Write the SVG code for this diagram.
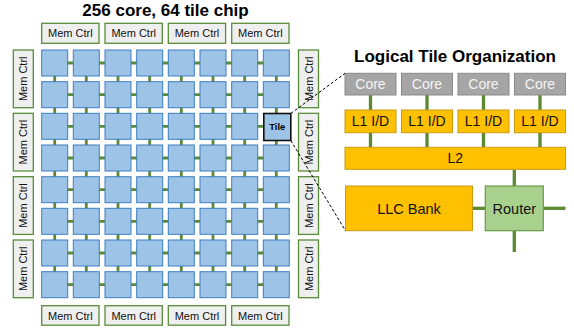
<svg xmlns="http://www.w3.org/2000/svg" width="574" height="331" viewBox="0 0 574 331">
  <style>
    text { font-family: "Liberation Sans", Arial, sans-serif; }
    .title { font-size: 17px; font-weight: bold; fill: #000; text-anchor: middle; }
    .tile { fill: #9DC3E6; stroke: #3D7EC1; stroke-width: 1; }
    .tile-hl { fill: #9DC3E6; stroke: #111; stroke-width: 1.6; }
    .mc { fill: #EFEFEF; stroke: #5B8C3A; stroke-width: 1.3; }
    .mc-t { font-size: 11px; fill: #111; text-anchor: middle; }
    .link { stroke: #5B8A32; stroke-width: 2.8; fill: none; }
    .wire { stroke: #5B8A32; stroke-width: 3.3; fill: none; }
    .zoom { stroke: #000; stroke-width: 1; stroke-dasharray: 3 2; fill: none; }
    .core { fill: #A5A5A5; stroke: #8A8A8A; stroke-width: 1; }
    .core-t { font-size: 14px; fill: #F4F4F4; text-anchor: middle; }
    .cache { fill: #FFC000; stroke: #C89A10; stroke-width: 1; }
    .router { fill: #A9D18E; stroke: #6A9A4A; stroke-width: 1.2; }
    .lbl { font-size: 14px; fill: #111; text-anchor: middle; }
    .lbl-l { font-size: 14.5px; fill: #111; text-anchor: middle; }
  </style>

  <text class="title" x="165.5" y="15.5">256 core, 64 tile chip</text>
  <text class="title" x="455" y="61.5">Logical Tile Organization</text>

  <!-- mesh links and tile-internal wiring -->
  <g id="connectors">
    <!-- horizontal mesh rows -->
    <g class="link">
      <line x1="54.7" y1="63.0" x2="276.3" y2="63.0"/>
      <line x1="54.7" y1="94.7" x2="276.3" y2="94.7"/>
      <line x1="54.7" y1="126.3" x2="276.3" y2="126.3"/>
      <line x1="54.7" y1="158.0" x2="276.3" y2="158.0"/>
      <line x1="54.7" y1="189.7" x2="276.3" y2="189.7"/>
      <line x1="54.7" y1="221.3" x2="276.3" y2="221.3"/>
      <line x1="54.7" y1="253.0" x2="276.3" y2="253.0"/>
      <line x1="54.7" y1="284.7" x2="276.3" y2="284.7"/>
      <!-- vertical mesh columns -->
      <line x1="54.7" y1="63.0" x2="54.7" y2="284.7"/>
      <line x1="86.3" y1="63.0" x2="86.3" y2="284.7"/>
      <line x1="118.0" y1="63.0" x2="118.0" y2="284.7"/>
      <line x1="149.7" y1="63.0" x2="149.7" y2="284.7"/>
      <line x1="181.3" y1="63.0" x2="181.3" y2="284.7"/>
      <line x1="213.0" y1="63.0" x2="213.0" y2="284.7"/>
      <line x1="244.7" y1="63.0" x2="244.7" y2="284.7"/>
      <line x1="276.3" y1="63.0" x2="276.3" y2="284.7"/>
    </g>
    <!-- tile internals -->
    <g class="wire">
      <line x1="370.5" y1="95" x2="370.5" y2="110"/>
      <line x1="427" y1="95" x2="427" y2="110"/>
      <line x1="483.5" y1="95" x2="483.5" y2="110"/>
      <line x1="540" y1="95" x2="540" y2="110"/>
      <line x1="370.5" y1="132.7" x2="370.5" y2="147.3"/>
      <line x1="427" y1="132.7" x2="427" y2="147.3"/>
      <line x1="483.5" y1="132.7" x2="483.5" y2="147.3"/>
      <line x1="540" y1="132.7" x2="540" y2="147.3"/>
      <line x1="514.3" y1="169.3" x2="514.3" y2="186"/>
      <line x1="472.5" y1="208.3" x2="485.3" y2="208.3"/>
      <line x1="543.3" y1="208.3" x2="565.5" y2="208.3"/>
      <line x1="514.3" y1="230.7" x2="514.3" y2="252"/>
    </g>
  </g>

  <!-- 8x8 tile array -->
  <g id="tiles">
    <g id="row1">
      <rect class="tile" x="41.7" y="50.0" width="26" height="26"/><rect class="tile" x="73.3" y="50.0" width="26" height="26"/><rect class="tile" x="105.0" y="50.0" width="26" height="26"/><rect class="tile" x="136.7" y="50.0" width="26" height="26"/><rect class="tile" x="168.3" y="50.0" width="26" height="26"/><rect class="tile" x="200.0" y="50.0" width="26" height="26"/><rect class="tile" x="231.7" y="50.0" width="26" height="26"/><rect class="tile" x="263.3" y="50.0" width="26" height="26"/>
    </g>
    <g id="row2">
      <rect class="tile" x="41.7" y="81.7" width="26" height="26"/><rect class="tile" x="73.3" y="81.7" width="26" height="26"/><rect class="tile" x="105.0" y="81.7" width="26" height="26"/><rect class="tile" x="136.7" y="81.7" width="26" height="26"/><rect class="tile" x="168.3" y="81.7" width="26" height="26"/><rect class="tile" x="200.0" y="81.7" width="26" height="26"/><rect class="tile" x="231.7" y="81.7" width="26" height="26"/><rect class="tile" x="263.3" y="81.7" width="26" height="26"/>
    </g>
    <g id="row3">
      <rect class="tile" x="41.7" y="113.3" width="26" height="26"/><rect class="tile" x="73.3" y="113.3" width="26" height="26"/><rect class="tile" x="105.0" y="113.3" width="26" height="26"/><rect class="tile" x="136.7" y="113.3" width="26" height="26"/><rect class="tile" x="168.3" y="113.3" width="26" height="26"/><rect class="tile" x="200.0" y="113.3" width="26" height="26"/><rect class="tile" x="231.7" y="113.3" width="26" height="26"/>
    </g>
    <g id="row4">
      <rect class="tile" x="41.7" y="145.0" width="26" height="26"/><rect class="tile" x="73.3" y="145.0" width="26" height="26"/><rect class="tile" x="105.0" y="145.0" width="26" height="26"/><rect class="tile" x="136.7" y="145.0" width="26" height="26"/><rect class="tile" x="168.3" y="145.0" width="26" height="26"/><rect class="tile" x="200.0" y="145.0" width="26" height="26"/><rect class="tile" x="231.7" y="145.0" width="26" height="26"/><rect class="tile" x="263.3" y="145.0" width="26" height="26"/>
    </g>
    <g id="row5">
      <rect class="tile" x="41.7" y="176.7" width="26" height="26"/><rect class="tile" x="73.3" y="176.7" width="26" height="26"/><rect class="tile" x="105.0" y="176.7" width="26" height="26"/><rect class="tile" x="136.7" y="176.7" width="26" height="26"/><rect class="tile" x="168.3" y="176.7" width="26" height="26"/><rect class="tile" x="200.0" y="176.7" width="26" height="26"/><rect class="tile" x="231.7" y="176.7" width="26" height="26"/><rect class="tile" x="263.3" y="176.7" width="26" height="26"/>
    </g>
    <g id="row6">
      <rect class="tile" x="41.7" y="208.3" width="26" height="26"/><rect class="tile" x="73.3" y="208.3" width="26" height="26"/><rect class="tile" x="105.0" y="208.3" width="26" height="26"/><rect class="tile" x="136.7" y="208.3" width="26" height="26"/><rect class="tile" x="168.3" y="208.3" width="26" height="26"/><rect class="tile" x="200.0" y="208.3" width="26" height="26"/><rect class="tile" x="231.7" y="208.3" width="26" height="26"/><rect class="tile" x="263.3" y="208.3" width="26" height="26"/>
    </g>
    <g id="row7">
      <rect class="tile" x="41.7" y="240.0" width="26" height="26"/><rect class="tile" x="73.3" y="240.0" width="26" height="26"/><rect class="tile" x="105.0" y="240.0" width="26" height="26"/><rect class="tile" x="136.7" y="240.0" width="26" height="26"/><rect class="tile" x="168.3" y="240.0" width="26" height="26"/><rect class="tile" x="200.0" y="240.0" width="26" height="26"/><rect class="tile" x="231.7" y="240.0" width="26" height="26"/><rect class="tile" x="263.3" y="240.0" width="26" height="26"/>
    </g>
    <g id="row8">
      <rect class="tile" x="41.7" y="271.7" width="26" height="26"/><rect class="tile" x="73.3" y="271.7" width="26" height="26"/><rect class="tile" x="105.0" y="271.7" width="26" height="26"/><rect class="tile" x="136.7" y="271.7" width="26" height="26"/><rect class="tile" x="168.3" y="271.7" width="26" height="26"/><rect class="tile" x="200.0" y="271.7" width="26" height="26"/><rect class="tile" x="231.7" y="271.7" width="26" height="26"/><rect class="tile" x="263.3" y="271.7" width="26" height="26"/>
    </g>
  </g>

  <g id="tile-highlight">
    <rect class="tile-hl" x="263.8" y="113.5" width="27" height="27"/>
    <text x="277.3" y="130.3" font-size="9.3" font-weight="bold" text-anchor="middle" fill="#000">Tile</text>
  </g>

  <!-- memory controllers -->
  <g id="mem-top">
    <rect class="mc" x="41.7" y="23.3" width="57.3" height="20"/><text class="mc-t" x="70.3" y="37.3">Mem Ctrl</text>
    <rect class="mc" x="105.0" y="23.3" width="57.3" height="20"/><text class="mc-t" x="133.7" y="37.3">Mem Ctrl</text>
    <rect class="mc" x="168.3" y="23.3" width="57.3" height="20"/><text class="mc-t" x="197.0" y="37.3">Mem Ctrl</text>
    <rect class="mc" x="231.7" y="23.3" width="57.3" height="20"/><text class="mc-t" x="260.3" y="37.3">Mem Ctrl</text>
  </g>
  <g id="mem-bottom">
    <rect class="mc" x="41.7" y="305.7" width="57.3" height="19.5"/><text class="mc-t" x="70.3" y="319.5">Mem Ctrl</text>
    <rect class="mc" x="105.0" y="305.7" width="57.3" height="19.5"/><text class="mc-t" x="133.7" y="319.5">Mem Ctrl</text>
    <rect class="mc" x="168.3" y="305.7" width="57.3" height="19.5"/><text class="mc-t" x="197.0" y="319.5">Mem Ctrl</text>
    <rect class="mc" x="231.7" y="305.7" width="57.3" height="19.5"/><text class="mc-t" x="260.3" y="319.5">Mem Ctrl</text>
  </g>
  <g id="mem-left">
    <rect class="mc" x="13.3" y="50.0" width="20" height="57.7"/><text class="mc-t" transform="translate(23.3 78.8) rotate(-90)" y="4">Mem Ctrl</text>
    <rect class="mc" x="13.3" y="113.3" width="20" height="57.7"/><text class="mc-t" transform="translate(23.3 142.2) rotate(-90)" y="4">Mem Ctrl</text>
    <rect class="mc" x="13.3" y="176.7" width="20" height="57.7"/><text class="mc-t" transform="translate(23.3 205.5) rotate(-90)" y="4">Mem Ctrl</text>
    <rect class="mc" x="13.3" y="240.0" width="20" height="57.7"/><text class="mc-t" transform="translate(23.3 268.8) rotate(-90)" y="4">Mem Ctrl</text>
  </g>
  <g id="mem-right">
    <rect class="mc" x="298.5" y="50.0" width="20" height="57.7"/><text class="mc-t" transform="translate(308.5 78.8) rotate(-90)" y="4">Mem Ctrl</text>
    <rect class="mc" x="298.5" y="113.3" width="20" height="57.7"/><text class="mc-t" transform="translate(308.5 142.2) rotate(-90)" y="4">Mem Ctrl</text>
    <rect class="mc" x="298.5" y="176.7" width="20" height="57.7"/><text class="mc-t" transform="translate(308.5 205.5) rotate(-90)" y="4">Mem Ctrl</text>
    <rect class="mc" x="298.5" y="240.0" width="20" height="57.7"/><text class="mc-t" transform="translate(308.5 268.8) rotate(-90)" y="4">Mem Ctrl</text>
  </g>

  <!-- expanded view of one tile -->
  <g id="cores">
    <rect class="core" x="345" y="73.3" width="51" height="21.7"/><text class="core-t" x="370.5" y="89.2">Core</text>
    <rect class="core" x="401.5" y="73.3" width="51" height="21.7"/><text class="core-t" x="427" y="89.2">Core</text>
    <rect class="core" x="458" y="73.3" width="51" height="21.7"/><text class="core-t" x="483.5" y="89.2">Core</text>
    <rect class="core" x="514.5" y="73.3" width="51" height="21.7"/><text class="core-t" x="540" y="89.2">Core</text>
  </g>
  <g id="l1">
    <rect class="cache" x="345" y="110" width="51" height="22.7"/><text class="lbl" x="370.5" y="126.4">L1 I/D</text>
    <rect class="cache" x="401.5" y="110" width="51" height="22.7"/><text class="lbl" x="427" y="126.4">L1 I/D</text>
    <rect class="cache" x="458" y="110" width="51" height="22.7"/><text class="lbl" x="483.5" y="126.4">L1 I/D</text>
    <rect class="cache" x="514.5" y="110" width="51" height="22.7"/><text class="lbl" x="540" y="126.4">L1 I/D</text>
  </g>
  <g id="l2">
    <rect class="cache" x="345" y="147.3" width="220.5" height="22"/><text class="lbl" x="455.2" y="163.3">L2</text>
  </g>
  <g id="llc">
    <rect class="cache" x="345.5" y="186" width="127" height="44.7"/><text class="lbl-l" x="409" y="213.5">LLC Bank</text>
  </g>
  <g id="router">
    <rect class="router" x="485.3" y="186" width="58" height="44.7"/><text class="lbl-l" x="514.3" y="213.5">Router</text>
  </g>

  <!-- zoom-out guides from the highlighted tile -->
  <g id="zoom-guides">
    <line class="zoom" x1="290.8" y1="113.5" x2="345" y2="73.3"/>
    <line class="zoom" x1="290.8" y1="140.5" x2="345.5" y2="230.7"/>
  </g>
</svg>
